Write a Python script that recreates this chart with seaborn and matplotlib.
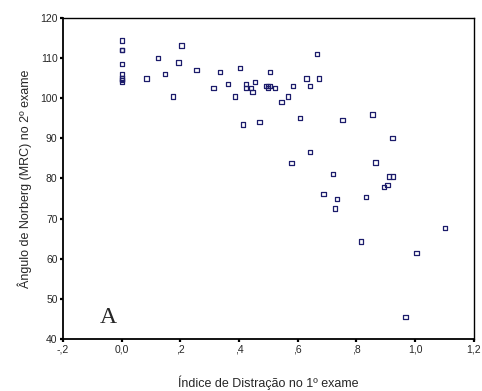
import matplotlib
matplotlib.use("Agg")
import matplotlib.pyplot as plt
import seaborn as sns
import pandas as pd

# Indice de distracao (1o exame) vs angulo de Norberg (2o exame)
distracao = [
    0.0, 0.0, 0.0, 0.0, 0.0, 0.0, 0.0, 0.0, 0.0,
    0.203, 0.124, 0.193, 0.148, 0.084, 0.254, 0.334, 0.362, 0.313, 0.174,
    0.403, 0.424, 0.454, 0.424, 0.440, 0.446, 0.385, 0.505, 0.491, 0.499,
    0.505, 0.498, 0.523, 0.584, 0.567, 0.545, 0.629, 0.672, 0.642, 0.665,
    0.414, 0.469, 0.607, 0.753, 0.642, 0.578, 0.720, 0.688, 0.734, 0.727,
    0.855, 0.923, 0.865, 0.910, 0.924, 0.906, 0.893, 0.832, 1.102, 0.815,
    1.005, 0.967,
]
norberg = [
    114.4, 112.0, 112.0, 108.6, 106.0, 104.9, 104.9, 104.6, 104.0,
    113.1, 110.0, 108.9, 106.0, 104.9, 107.0, 106.5, 103.6, 102.5, 100.4,
    107.5, 103.6, 104.1, 102.5, 102.5, 101.5, 100.4, 106.5, 103.0, 103.0,
    103.0, 102.5, 102.5, 103.0, 100.4, 99.1, 104.9, 104.9, 103.0, 111.0,
    93.5, 94.1, 95.1, 94.6, 86.6, 83.9, 81.1, 76.1, 74.9, 72.5,
    95.9, 90.1, 84.0, 80.5, 80.5, 78.4, 77.9, 75.4, 67.6, 64.3,
    61.4, 45.5,
]

x_ticks = [-0.2, 0.0, 0.2, 0.4, 0.6, 0.8, 1.0, 1.2]
x_labels = ["-,2", "0,0", ",2", ",4", ",6", ",8", "1,0", "1,2"]
y_ticks = [40, 50, 60, 70, 80, 90, 100, 110, 120]

df = pd.DataFrame({"distracao": distracao, "norberg": norberg})

sns.set_style("white")
plt.rcParams["font.family"] = ["Liberation Sans", "DejaVu Sans"]

fig, ax = plt.subplots(figsize=(4.82, 3.91), dpi=100)
fig.subplots_adjust(left=0.131, right=0.983, top=0.954, bottom=0.133)

sns.scatterplot(data=df, x="distracao", y="norberg", marker="s", s=10,
                facecolors="none", edgecolor="#1c1c6b", linewidth=0.9, ax=ax)

ax.set_xlim(-0.2, 1.2)
ax.set_ylim(40, 120)
ax.set_xticks(x_ticks)
ax.set_xticklabels(x_labels)
ax.set_yticks(y_ticks)

for side in ["left", "bottom", "top", "right"]:
    ax.spines[side].set_color("black")
    ax.spines[side].set_linewidth(1.0)
ax.spines["left"].set_linewidth(1.3)
ax.spines["bottom"].set_linewidth(1.3)

ax.tick_params(axis="both", direction="out", length=2.5, width=1.6,
               color="black", labelsize=7.5, pad=1.5, left=True, bottom=True)

ax.set_xlabel("Índice de Distração no 1º exame", fontsize=9, labelpad=15)
ax.set_ylabel("Ângulo de Norberg (MRC) no 2º exame", fontsize=9, labelpad=6)

ax.text(-0.047, 45.4, "A", fontsize=17, family="Liberation Serif",
        ha="center", va="center")

fig.savefig("out.png", dpi=100)
